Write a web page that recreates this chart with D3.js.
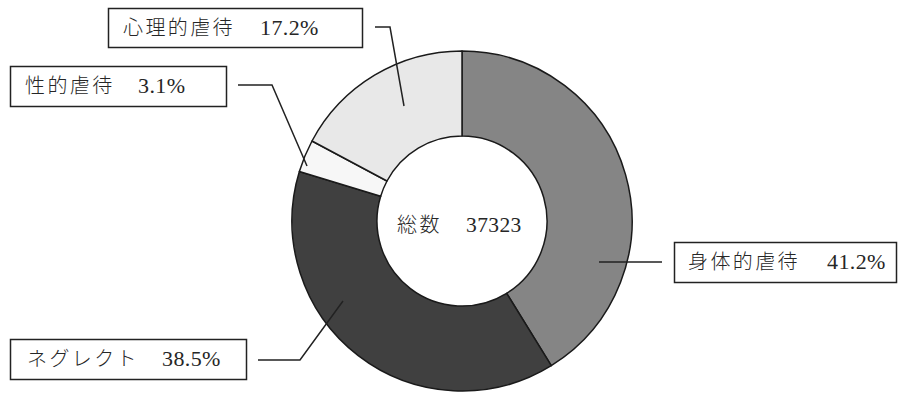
<!DOCTYPE html>
<html>
<head>
<meta charset="utf-8">
<script src="https://cdn.jsdelivr.net/npm/d3@7/dist/d3.min.js"></script>
<style>
  html, body { margin: 0; padding: 0; background: #fff; }
  svg { display: block; }
</style>
</head>
<body>
<svg id="chart" width="898" height="396"></svg>
<script>
// Abuse-type breakdown (percent of all cases), clockwise from 12 o'clock
const categories = ["身体的虐待", "ネグレクト", "性的虐待", "心理的虐待"];
const shares = [41.2, 38.5, 3.1, 17.2];
const totalLabel = "総数";
const totalCount = 37323;

// Greyscale fills per category
const fill = d3.scaleOrdinal()
  .domain(categories)
  .range(["#858585", "#404040", "#f7f7f7", "#e8e8e8"]);

// Layout of the ring
const cx = 462, cy = 221, outerR = 170, innerR = 85;

// Callout boxes and their leader lines
const callouts = {
  "心理的虐待": { box: [108, 8, 254, 39], textX: 123, valueX: 260, leader: [[375, 27], [390, 27], [404, 106]] },
  "性的虐待":   { box: [10, 66, 216, 40], textX: 25, valueX: 138, leader: [[238, 85], [272, 85], [307, 166]] },
  "身体的虐待": { box: [674, 242, 222, 40], textX: 688, valueX: 827, leader: [[599, 262], [662, 262]] },
  "ネグレクト": { box: [10, 339, 236, 40], textX: 27, valueX: 162, leader: [[258, 360], [300, 360], [343, 301]] }
};

const svg = d3.select("#chart");
const fontFamily = "'Liberation Serif', 'Noto Sans CJK JP', serif";

const pie = d3.pie().sort(null).value(d => d.value);
const arcs = pie(categories.map((c, i) => ({ name: c, value: shares[i] })));
const arc = d3.arc().innerRadius(innerR).outerRadius(outerR);

const ring = svg.append("g").attr("transform", `translate(${cx},${cy})`);
ring.selectAll("path")
  .data(arcs)
  .join("path")
  .attr("d", arc)
  .attr("fill", d => fill(d.data.name))
  .attr("stroke", "#1a1a1a")
  .attr("stroke-width", 1.5)
  .attr("stroke-linejoin", "round");

// Leader lines
const line = d3.line();
svg.append("g")
  .selectAll("path")
  .data(categories)
  .join("path")
  .attr("d", c => line(callouts[c].leader))
  .attr("fill", "none")
  .attr("stroke", "#222")
  .attr("stroke-width", 1.5);

// Callout boxes with category and share
const fmt = d3.format(".1f");
const labels = svg.append("g")
  .selectAll("g")
  .data(categories)
  .join("g");

labels.append("rect")
  .attr("x", c => callouts[c].box[0] + 0.5)
  .attr("y", c => callouts[c].box[1] + 0.5)
  .attr("width", c => callouts[c].box[2])
  .attr("height", c => callouts[c].box[3])
  .attr("fill", "#fff")
  .attr("stroke", "#222")
  .attr("stroke-width", 1.5);

const txt = labels.append("text")
  .attr("y", c => callouts[c].box[1] + callouts[c].box[3] / 2 + 7)
  .attr("font-family", fontFamily)
  .attr("font-size", 20)
  .attr("fill", "#262626");

txt.append("tspan")
  .attr("x", c => callouts[c].textX)
  .attr("letter-spacing", 2.4)
  .attr("font-weight", 300)
  .text(c => c);

txt.append("tspan")
  .attr("x", c => callouts[c].valueX)
  .attr("font-size", 22)
  .attr("letter-spacing", 0.4)
  .text(c => fmt(shares[categories.indexOf(c)]) + "%");

// Total in the hole
const centre = svg.append("text")
  .attr("y", cy + 11)
  .attr("font-family", fontFamily)
  .attr("font-size", 20)
  .attr("fill", "#262626");
centre.append("tspan").attr("x", 397).attr("letter-spacing", 2.4).attr("font-weight", 300).text(totalLabel);
centre.append("tspan").attr("x", 466).attr("font-size", 21.5).attr("letter-spacing", 0.4).text(String(totalCount));
</script>
</body>
</html>
